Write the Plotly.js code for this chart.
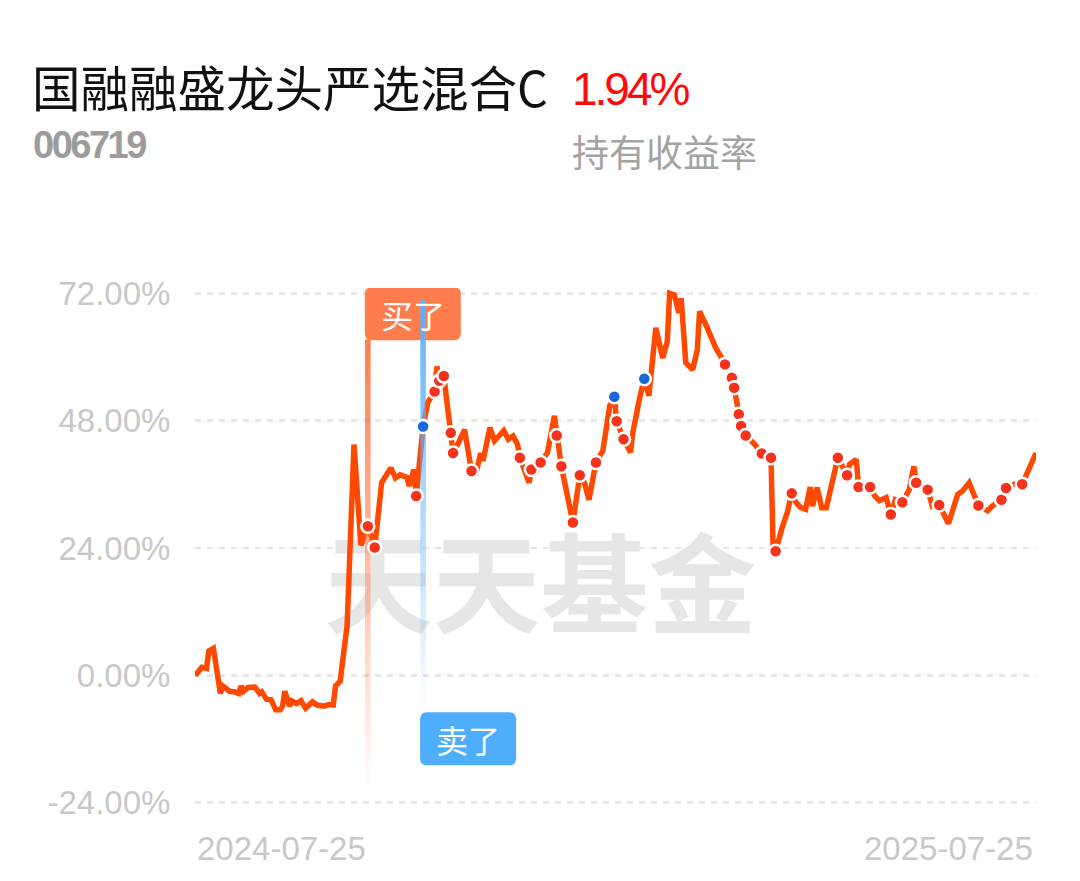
<!DOCTYPE html>
<html><head><meta charset="utf-8">
<script src="https://cdn.plot.ly/plotly-3.0.1.min.js"></script>
<style>html,body{margin:0;padding:0;background:#fff}#chart{width:1080px;height:881px}</style>
</head><body><div id="chart"></div>
<script>
const fundName = '国融融盛龙头严选混合C';
const fundCode = '006719';
const holdReturn = '1.94%';
const holdReturnLabel = '持有收益率';
const startDate = '2024-07-25';
const endDate = '2025-07-25';
const xTickText = ['2024-07-25', '2025-07-25'];
const yTickVals = [-24, 0, 24, 48, 72];
const yTickText = ['-24.00%', '0.00%', '24.00%', '48.00%', '72.00%'];
const watermarkText = '天天基金';
const buyLabel = '买了';
const sellLabel = '卖了';

// calendar-day offsets from startDate
const dayOffsets = [0,3,5,6,8,11,12,15,17,19,
 20,21,23,26,28,29,31,33,34,35,
 37,38,39,41,42,44,46,47,48,51,
 53,56,58,60,61,63,64,66,67,68,
 69,72,75,78,81,85,87,89,92,93,
 95,96,99,101,104,105,106,108,111,112,
 114,117,120,122,124,125,128,130,134,136,
 138,140,141,145,146,148,150,153,156,157,
 159,164,167,169,171,174,177,180,182,183,
 186,189,190,193,195,197,200,203,205,206,
 208,210,211,213,216,218,219,222,224,226,
 229,230,233,234,236,237,239,243,246,250,
 251,252,255,257,259,261,263,265,267,268,
 270,272,274,278,279,283,284,287,288,293,
 295,297,300,302,304,307,310,312,313,318,
 320,323,327,329,331,333,336,340,344,346,
 350,352,357,359,362,365];
// cumulative return, %
const returnPct = [0.0,1.5,1.3,4.6,5.1,-3.4,-2.0,-3.0,-3.1,-3.4,
 -2.0,-3.0,-2.3,-2.2,-3.4,-3.1,-4.5,-4.6,-5.5,-6.5,
 -6.5,-5.8,-3.0,-5.8,-4.8,-5.3,-4.8,-5.8,-6.2,-5.0,
 -5.6,-5.8,-5.5,-5.6,-2.0,-1.1,3.0,9.3,20.6,33.1,
 43.5,24.5,28.1,24.1,36.3,39.1,37.2,37.8,37.3,35.7,
 38.8,33.8,46.9,51.4,53.5,58.2,55.5,56.4,45.7,41.9,
 43.5,46.3,38.5,38.2,41.9,40.4,46.7,44.2,46.1,44.5,
 45.1,43.5,41.0,36.3,38.8,38.5,40.1,42.0,48.9,45.2,
 39.4,28.8,37.7,36.3,33.1,40.1,42.3,50.8,52.5,47.9,
 44.5,42.0,45.7,52.3,55.9,52.7,65.5,59.8,63.0,72.0,
 71.7,68.3,71.1,58.9,57.6,61.4,68.6,65.8,63.6,61.7,
 59.5,58.6,56.1,54.2,49.2,47.0,45.2,43.5,41.8,41.0,
 22.2,23.4,28.1,30.6,34.3,32.5,31.6,31.3,35.5,31.9,
 35.4,31.6,31.6,40.1,41.0,37.7,39.7,40.7,35.5,35.5,
 33.8,32.9,33.5,30.3,33.1,32.6,35.0,39.4,36.3,35.0,
 31.9,32.1,28.6,31.3,34.1,34.7,36.3,32.0,31.0,31.9,
 33.1,35.3,36.3,36.0,38.8,41.9];
const buyDotDays = [75,78,96,104,106,108,111,112,120,141,146,150,157,159,164,167,174,183,186,
 230,233,234,236,237,239,246,250,252,259,279,283,288,293,302,307,313,318,323,340,350,352,359];
const sellDotDays = [99,182,195];
const buyMarkDay = 75;
const sellMarkDay = 99;

const t0 = Date.UTC(2024, 6, 25);
function dayToDate(d) {
  return new Date(t0 + d * 86400000).toISOString().replace('T', ' ').slice(0, 19);
}
const dates = dayOffsets.map(dayToDate);
const valueByDay = {};
dayOffsets.forEach((d, i) => { valueByDay[d] = returnPct[i]; });

const lineColor = '#ff4800';
const dotRed = '#f5321c';
const dotBlue = '#1769d8';
const buyColor = '#ff7d4d';
const sellColor = '#4eaefc';

function gradientBar(day, yBottom, yTop, rgb) {
  const hw = 1.2;
  return {
    type: 'scatter', mode: 'none', hoverinfo: 'skip',
    x: [dayToDate(day - hw), dayToDate(day + hw), dayToDate(day + hw), dayToDate(day - hw)],
    y: [yBottom, yBottom, yTop, yTop],
    fill: 'toself',
    fillgradient: {type: 'vertical', colorscale: [[0, 'rgba(' + rgb + ',0)'], [0.5, 'rgba(' + rgb + ',0.5)'], [1, 'rgba(' + rgb + ',1)']]},
    cliponaxis: false
  };
}

const traces = [
  { type: 'scatter', mode: 'text', x: [dayToDate(150)], y: [14.5], text: [watermarkText],
    textfont: {family: 'Noto Sans CJK SC', size: 108, weight: 'bold', color: '#e6e6e6'},
    hoverinfo: 'skip', cliponaxis: false },
  { type: 'scatter', mode: 'lines', x: dates, y: returnPct,
    line: {color: lineColor, width: 5.5}, cliponaxis: false },
  gradientBar(buyMarkDay, -21.6, 63.3, '255,125,77'),
  gradientBar(sellMarkDay, -6.5, 70.7, '94,176,251'),
  { type: 'scatter', mode: 'markers', x: buyDotDays.map(dayToDate), y: buyDotDays.map(d => valueByDay[d]),
    marker: {color: dotRed, size: 13, line: {color: '#ffffff', width: 2.5}}, cliponaxis: false },
  { type: 'scatter', mode: 'markers', x: sellDotDays.map(dayToDate), y: sellDotDays.map(d => valueByDay[d]),
    marker: {color: dotBlue, size: 13, line: {color: '#ffffff', width: 2.5}}, cliponaxis: false }
];

function roundRect(l, r, top, bottom, rad) {
  return `M ${l + rad},${top} L ${r - rad},${top} Q ${r},${top} ${r},${top - rad} L ${r},${bottom + rad} Q ${r},${bottom} ${r - rad},${bottom} L ${l + rad},${bottom} Q ${l},${bottom} ${l},${bottom + rad} L ${l},${top - rad} Q ${l},${top} ${l + rad},${top} Z`;
}

const shapes = [
  { type: 'path', layer: 'between', xref: 'x', yref: 'y', xsizemode: 'pixel', ysizemode: 'pixel',
    xanchor: dayToDate(buyMarkDay), yanchor: 72, path: roundRect(-3, 93, 6, -47, 7),
    fillcolor: buyColor, line: {width: 0} },
  { type: 'path', layer: 'between', xref: 'x', yref: 'y', xsizemode: 'pixel', ysizemode: 'pixel',
    xanchor: dayToDate(sellMarkDay), yanchor: 0, path: roundRect(-3, 93, -37, -90, 7),
    fillcolor: sellColor, line: {width: 0} }
];

const hdr = (text, x, y, size, color, family, weight) => ({
  xref: 'paper', yref: 'paper', x: x, y: y, xanchor: 'left', yanchor: 'middle', showarrow: false,
  text: text, font: {size: size, color: color, family: family, weight: weight || 'normal'}
});
const px2x = p => (p - 195) / 841;
const px2y = p => (808 - p) / 520;

const annotations = [
  hdr(fundName, px2x(30), px2y(86), 48.5, '#111111', 'Noto Sans CJK SC'),
  hdr("<span style='letter-spacing:-3px'>" + holdReturn + "</span>", px2x(570), px2y(89), 46, '#ff0a0a', 'Liberation Sans, Arial, sans-serif'),
  hdr("<span style='letter-spacing:-2.5px'>" + fundCode + "</span>", px2x(31), px2y(145), 38, '#9c9c9c', 'Liberation Sans, Arial, sans-serif', 'bold'),
  hdr(holdReturnLabel, px2x(570), px2y(151), 37, '#a3a3a3', 'Noto Sans CJK SC'),
  { xref: 'x', yref: 'paper', x: startDate, y: px2y(848), xanchor: 'left', yanchor: 'middle', showarrow: false,
    text: xTickText[0], font: {size: 33, color: '#c8c8c8', family: 'Liberation Sans, Arial, sans-serif'} },
  { xref: 'x', yref: 'paper', x: endDate, y: px2y(848), xanchor: 'right', yanchor: 'middle', showarrow: false, xshift: -1,
    text: xTickText[1], font: {size: 33, color: '#c8c8c8', family: 'Liberation Sans, Arial, sans-serif'} },
  { xref: 'x', yref: 'y', x: dayToDate(buyMarkDay), y: 72, xshift: 45, yshift: -20.5, showarrow: false,
    text: buyLabel, font: {size: 32, color: '#ffffff', family: 'Noto Sans CJK SC'} },
  { xref: 'x', yref: 'y', x: dayToDate(sellMarkDay), y: 0, xshift: 45, yshift: -63.5, showarrow: false,
    text: sellLabel, font: {size: 32, color: '#ffffff', family: 'Noto Sans CJK SC'} }
];

const layout = {
  width: 1080, height: 881,
  margin: {l: 195, r: 44, t: 288, b: 73, pad: 0},
  paper_bgcolor: '#ffffff', plot_bgcolor: '#ffffff',
  showlegend: false, hovermode: false,
  xaxis: {type: 'date', range: [startDate, endDate], showgrid: false, zeroline: false,
          showticklabels: false, showline: false, ticks: ''},
  yaxis: {range: [-25, 73], tickvals: yTickVals, ticktext: yTickText,
          showgrid: true, gridcolor: '#e6e6e6', gridwidth: 2.5, griddash: '6px,6px',
          zeroline: false, showline: false, ticks: 'outside', ticklen: 17, tickcolor: 'rgba(0,0,0,0)',
          tickfont: {family: 'Liberation Sans, Arial, sans-serif', size: 33, color: '#c8c8c8'}},
  shapes: shapes,
  annotations: annotations
};

Plotly.newPlot('chart', traces, layout, {displayModeBar: false, staticPlot: true});
</script>
</body></html>
